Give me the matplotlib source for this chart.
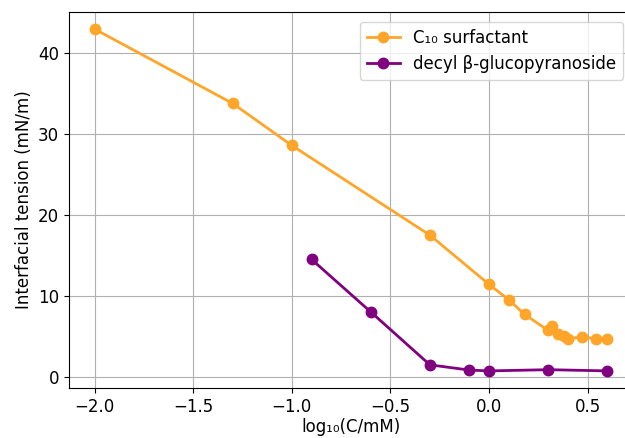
import matplotlib
matplotlib.use("Agg")
import matplotlib.pyplot as plt

# C10 surfactant
c10_logc = [-2.0, -1.3, -1.0, -0.3, 0.0, 0.1, 0.18, 0.30, 0.32, 0.35, 0.38, 0.40, 0.47, 0.54, 0.60]
c10_tension = [43.0, 33.8, 28.6, 17.5, 11.4, 9.5, 7.7, 5.7, 6.3, 5.3, 5.0, 4.7, 4.9, 4.7, 4.7]

# decyl beta-glucopyranoside
glc_logc = [-0.9, -0.6, -0.3, -0.1, 0.0, 0.3, 0.6]
glc_tension = [14.5, 8.0, 1.45, 0.8, 0.7, 0.85, 0.7]


def main():
    plt.rcParams["font.size"] = 12
    fig = plt.figure(figsize=(6.25, 4.38), dpi=100)
    ax = fig.add_axes([0.1104, 0.1142, 0.9024, 0.8584])

    ax.plot(c10_logc, c10_tension, "o-", color="#FFA52A", lw=2, markersize=7.5,
            label="C₁₀ surfactant")
    ax.plot(glc_logc, glc_tension, "o-", color="purple", lw=2, markersize=7.5,
            label="decyl β-glucopyranoside")

    ax.set_xlabel("log₁₀(C/mM)", labelpad=2)
    ax.set_ylabel("Interfacial tension (mN/m)")
    ax.grid(True)
    ax.legend(loc="upper right", bbox_to_anchor=(0.997, 0.950),
              bbox_transform=fig.transFigure, borderaxespad=0)

    fig.savefig("out.png", dpi=100)


if __name__ == "__main__":
    main()
